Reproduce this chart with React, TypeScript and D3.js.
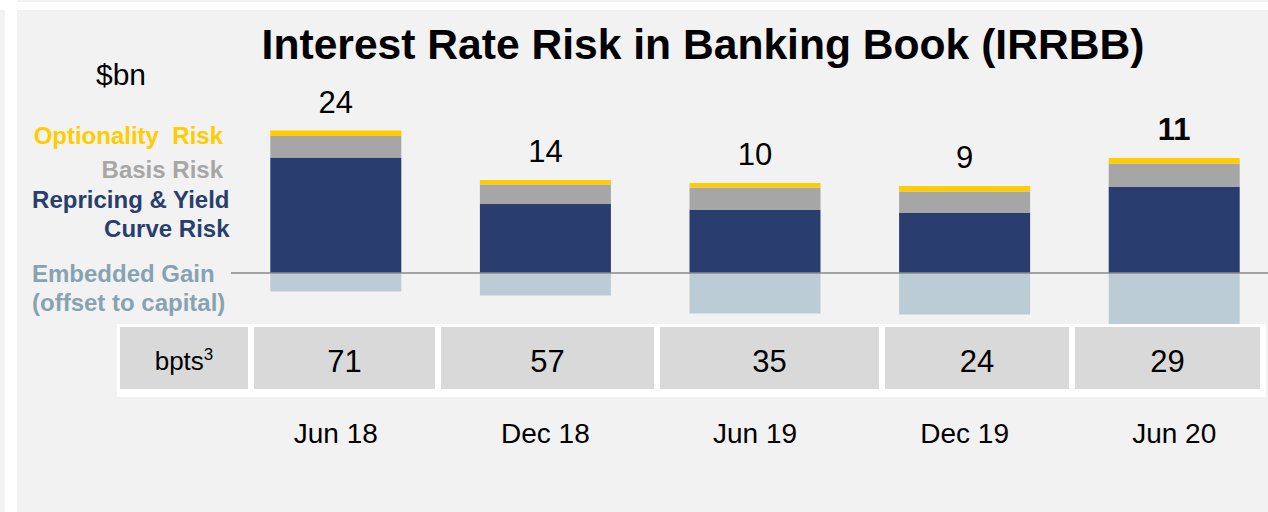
import React from "react";
import * as d3 from "d3";

const categories = ["Jun 18", "Dec 18", "Jun 19", "Dec 19", "Jun 20"];
const optionality = [1.1, 0.9, 0.9, 1.1, 1.1];
const basis = [4.3, 3.9, 4.5, 4.3, 4.7];
const repricing = [23.1, 13.8, 12.6, 12.0, 17.2];
const embedded = [-3.7, -4.5, -8.1, -8.3, -10.3];
const totalLabels = ["24", "14", "10", "9", "11"];
const bpts = ["71", "57", "35", "24", "29"];

const W = 1268;
const H = 512;
const FONT = "'Liberation Sans', Arial, Helvetica, sans-serif";
const C_YEL = "#FFCC00";
const C_GRAY = "#A6A6A6";
const C_NAVY = "#293E6E";
const C_EMB = "#BCCCD4";
const C_EMB_TXT = "#86A3B2";

// table cell edges (layout)
const cellEdges: [number, number][] = [
  [120, 248],
  [254, 435],
  [441, 654],
  [660, 879],
  [885, 1069],
  [1075, 1260],
];

export default function App() {
  const x = d3
    .scaleBand<string>()
    .domain(categories)
    .range([231, 1279])
    .paddingInner(0.375)
    .paddingOuter(0.1875);
  const y = d3.scaleLinear().domain([-12, 28]).range([333, 133]);

  const keys = ["repricing", "basis", "optionality"];
  const rows = categories.map((c, i) => ({
    cat: c,
    repricing: repricing[i],
    basis: basis[i],
    optionality: optionality[i],
  }));
  const stack = d3.stack<any>().keys(keys)(rows);
  const colors: Record<string, string> = {
    repricing: C_NAVY,
    basis: C_GRAY,
    optionality: C_YEL,
  };

  return (
    <svg
      width={W}
      height={H}
      style={{ position: "absolute", left: 0, top: 0, display: "block" }}
      fontFamily={FONT}
    >
      <rect x={0} y={0} width={W} height={H} fill="#ffffff" />
      <rect x={17} y={0} width={W - 17} height={2} fill="#f2f2f2" />
      <rect x={0} y={10} width={5} height={H - 10} fill="#f2f2f2" />
      <rect x={17} y={10} width={W - 17} height={H - 10} fill="#f2f2f2" />

      <text x={703} y={59} textAnchor="middle" fontSize={42.6} fontWeight="bold" fill="#000">
        Interest Rate Risk in Banking Book (IRRBB)
      </text>

      <text x={96} y={85} fontSize={30} fill="#000">
        $bn
      </text>

      <g fontWeight="bold" fontSize={24}>
        <text x={223} y={144} textAnchor="end" fill={C_YEL} style={{ whiteSpace: "pre" }}>
          {"Optionality  Risk"}
        </text>
        <text x={223} y={178} textAnchor="end" fill={C_GRAY}>
          Basis Risk
        </text>
        <text x={229.5} y={207.5} textAnchor="end" fill={C_NAVY}>
          Repricing &amp; Yield
        </text>
        <text x={229.5} y={237} textAnchor="end" fill={C_NAVY}>
          Curve Risk
        </text>
        <text x={32} y={281.5} fill={C_EMB_TXT}>
          Embedded Gain
        </text>
        <text x={32} y={310.5} fill={C_EMB_TXT}>
          (offset to capital)
        </text>
      </g>

      {/* embedded gain (negative) */}
      {categories.map((c, i) => (
        <rect
          key={"e" + c}
          x={x(c)}
          y={y(0)}
          width={x.bandwidth()}
          height={y(embedded[i]) - y(0)}
          fill={C_EMB}
        />
      ))}

      {/* stacked positive */}
      {stack.map((s) =>
        s.map((d, i) => (
          <rect
            key={s.key + i}
            x={x(categories[i])}
            y={y(d[1])}
            width={x.bandwidth()}
            height={y(d[0]) - y(d[1])}
            fill={colors[s.key]}
          />
        ))
      )}

      <line x1={231} x2={W} y1={y(0)} y2={y(0)} stroke="#888888" strokeWidth={1.3} />

      {categories.map((c, i) => {
        const top = repricing[i] + basis[i] + optionality[i];
        return (
          <text
            key={"t" + c}
            x={(x(c) as number) + x.bandwidth() / 2}
            y={y(top) - 18}
            textAnchor="middle"
            fontSize={31}
            fontWeight={i === categories.length - 1 ? "bold" : "normal"}
            fill="#000"
          >
            {totalLabels[i]}
          </text>
        );
      })}

      {/* bpts table */}
      <rect x={117} y={324} width={1266 - 117} height={73} fill="#ffffff" />
      {cellEdges.map(([a, b], i) => (
        <rect key={"c" + i} x={a} y={327} width={b - a} height={62} fill="#D9D9D9" />
      ))}
      <text x={184} y={370} textAnchor="middle" fontSize={26} fill="#000">
        bpts
        <tspan fontSize={17} dy={-10}>
          3
        </tspan>
      </text>
      {bpts.map((v, i) => {
        const [a, b] = cellEdges[i + 1];
        return (
          <text key={"b" + i} x={(a + b) / 2} y={372} textAnchor="middle" fontSize={31} fill="#000">
            {v}
          </text>
        );
      })}

      {categories.map((c) => (
        <text
          key={"x" + c}
          x={(x(c) as number) + x.bandwidth() / 2}
          y={443}
          textAnchor="middle"
          fontSize={28}
          fill="#000"
        >
          {c}
        </text>
      ))}
    </svg>
  );
}
